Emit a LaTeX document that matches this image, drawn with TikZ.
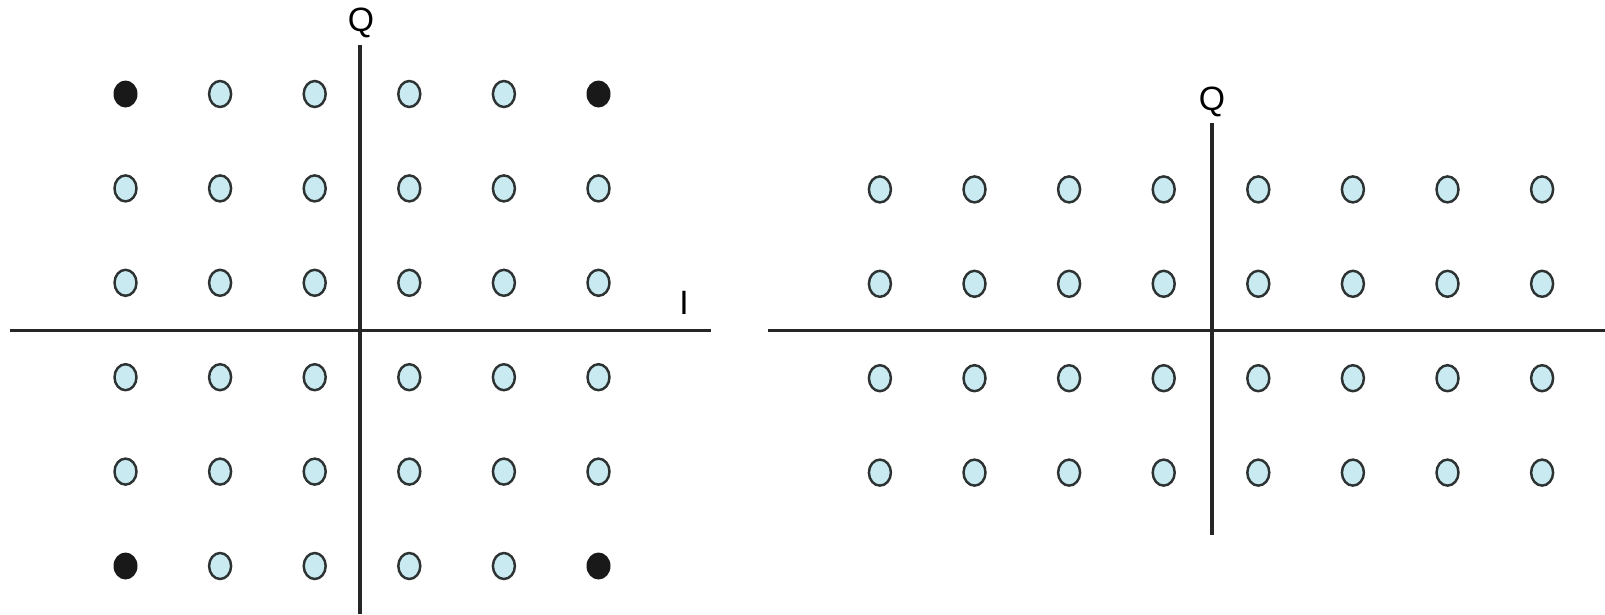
\documentclass[tikz,border=0pt]{standalone}
\usepackage{fontspec}
\setmainfont{Liberation Sans}
\usepackage{tikz}
\usetikzlibrary{calc}
\definecolor{dotfill}{RGB}{200,234,240}
\definecolor{dotline}{RGB}{45,50,50}

\begin{document}
\begin{tikzpicture}[font=\fontsize{9.6}{11}\selectfont,
		axis/.style={line width=0.95pt, black!85},
		pt/.style={fill=dotfill, draw=dotline, line width=0.7pt},
		corner/.style={fill=black!90}]
		\useasboundingbox (0,0) rectangle (16.05,6.14);
		\coordinate (oa) at (3.60,2.834);
		\coordinate (ob) at (12.12,2.834);
		% left constellation: axes
		\draw[axis] ($(oa)+(-3.50,0)$) -- ($(oa)+(3.51,0)$);
		\draw[axis] ($(oa)+(0,2.856)$) -- ($(oa)+(0,-2.834)$);
		\node[anchor=base] (qleft) at (3.61,5.83) {Q};
		\node[anchor=base] (ileft) at (6.84,3.00) {I};
		% left constellation: 6x6 points, corners filled black
		\foreach \i in {0,...,5} {
			\foreach \j in {0,...,5} {
				\pgfmathtruncatemacro\edge{((\i==0)||(\i==5))&&((\j==0)||(\j==5))}
				\ifnum\edge=1
					\fill[corner] ({3.62+(\i-2.5)*0.946},{2.84+(\j-2.5)*0.944}) ellipse[x radius=0.12, y radius=0.135];
				\else
					\draw[pt] ({3.62+(\i-2.5)*0.946},{2.84+(\j-2.5)*0.944}) ellipse[x radius=0.11, y radius=0.13];
				\fi
			}
		}
		% right constellation: axes
		\draw[axis] ($(ob)+(-4.44,0)$) -- ($(ob)+(3.93,0)$);
		\draw[axis] ($(ob)+(0,2.076)$) -- ($(ob)+(0,-2.044)$);
		\node[anchor=base] (qright) at (12.12,5.04) {Q};
		% right constellation: 8x4 points
		\foreach \i in {0,...,7} {
			\foreach \j in {0,...,3} {
				\draw[pt] ({12.11+(\i-3.5)*0.946},{2.83+(\j-1.5)*0.944}) ellipse[x radius=0.11, y radius=0.13];
			}
		}
	\end{tikzpicture}
\end{document}
